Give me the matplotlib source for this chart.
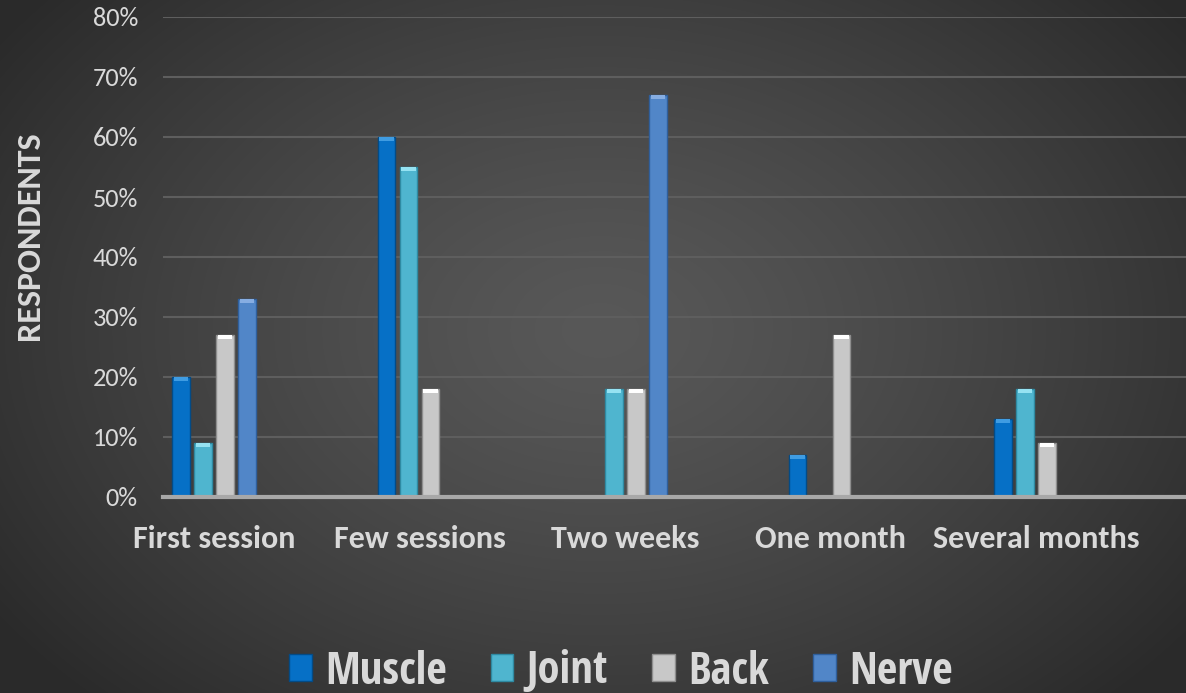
import matplotlib
matplotlib.use("Agg")
import matplotlib.pyplot as plt
from matplotlib import font_manager as fm
from matplotlib.ticker import FuncFormatter
import numpy as np

# ---- data ----
categories = ["First session", "Few sessions", "Two weeks", "One month", "Several months"]
series_names = ["Muscle", "Joint", "Back", "Nerve"]
muscle = [20, 60, 0, 7, 13]
joint = [9, 55, 18, 0, 18]
back = [27, 18, 18, 27, 9]
nerve = [33, 0, 67, 0, 0]
y_ticks = [0, 10, 20, 30, 40, 50, 60, 70, 80]

# ---- styles ----
main_colors = ["#0670c6", "#4fb5cf", "#c8c8c8", "#5186c8"]
cap_colors = ["#3f9ce2", "#95e2f2", "#ffffff", "#86ade2"]
edge_colors = ["#034b86", "#2f8aa2", "#8e8e8e", "#2f5f9c"]

avail = {f.name for f in fm.fontManager.ttflist}
def pick(*names):
    for n in names:
        if n in avail:
            return n
    return "DejaVu Sans"

f_tick = pick("Carlito", "Open Sans", "Lato")
f_cat = pick("Carlito", "Open Sans", "Lato")
f_leg = pick("Open Sans Condensed", "PT Sans Narrow", "Roboto Condensed", "Carlito")
f_lab = pick("Carlito", "Open Sans", "Lato")
txt_color = "#d9d9d9"

W, H = 1186, 693
fig = plt.figure(figsize=(W / 100, H / 100), dpi=100)

# background radial gradient
bg = fig.add_axes([0, 0, 1, 1], zorder=-10)
yy, xx = np.mgrid[0:H, 0:W]
cx, cy = 600, 330
r = np.sqrt(((xx - cx) / (W * 0.62)) ** 2 + ((yy - cy) / (H * 0.75)) ** 2)
r = np.clip(r, 0, 1)
c_in, c_out = 0x58 / 255, 0x2a / 255
val = c_in + (c_out - c_in) * r ** 1.3
img = np.dstack([val, val, val])
bg.imshow(img, aspect="auto", extent=[0, 1, 0, 1], interpolation="bilinear")
bg.set_axis_off()

ax = fig.add_axes([163 / W, (H - 497) / H, (W - 163) / W, 480 / H])
ax.set_facecolor("none")
x = np.arange(len(categories))
pitch = 0.107
bw = 0.083
series = [muscle, joint, back, nerve]
cap = 0.65
for i, (vals, name) in enumerate(zip(series, series_names)):
    v = np.array(vals, dtype=float)
    pos = x + (i - 1.5) * pitch
    ax.bar(pos, v, width=bw, color=main_colors[i], edgecolor=edge_colors[i],
           linewidth=1.0, label=name, zorder=3)
    ch = np.where(v > 0, cap, 0)
    ax.bar(pos, ch, bottom=v - ch, width=bw * 0.85, color=cap_colors[i],
           linewidth=0, zorder=4)

ax.set_xlim((163 - 214) / 205.5, (W - 214) / 205.5)
ax.set_ylim(0, 80)
ax.set_yticks(y_ticks)
ax.yaxis.set_major_formatter(FuncFormatter(lambda v, p: f"{int(v)}%"))
ax.set_xticks(x)
ax.set_xticklabels(categories)
for s in ax.spines.values():
    s.set_visible(False)
ax.tick_params(axis="y", length=0, pad=18, labelcolor=txt_color, labelsize=19)
ax.tick_params(axis="x", length=0, pad=20, labelcolor=txt_color, labelsize=23)
for t in ax.get_yticklabels():
    t.set_fontfamily(f_tick)
for t in ax.get_xticklabels():
    t.set_fontfamily(f_cat)
    t.set_fontweight("bold")
for yv in y_ticks[1:]:
    ax.axhline(yv, color="#5e5e5e", linewidth=1.5, zorder=1)
ax.axhline(0, color="#a8a8a8", linewidth=3, zorder=5, clip_on=False)

fig.text(30 / W, 1 - 236 / H, "RESPONDENTS", rotation=90, ha="center", va="center",
         color=txt_color, fontsize=24.5, fontweight="bold", family=f_lab)

handles, labels = ax.get_legend_handles_labels()
leg = fig.legend(handles, labels, loc="center", bbox_to_anchor=(621 / W, 1 - 672 / H),
                 ncol=4, frameon=False, prop={"family": f_leg, "weight": "bold", "size": 32},
                 handlelength=0.5, handleheight=0.55, handletextpad=0.3, columnspacing=1.0,
                 labelcolor=txt_color, borderaxespad=0, borderpad=0)

fig.savefig("out.png", dpi=100)
